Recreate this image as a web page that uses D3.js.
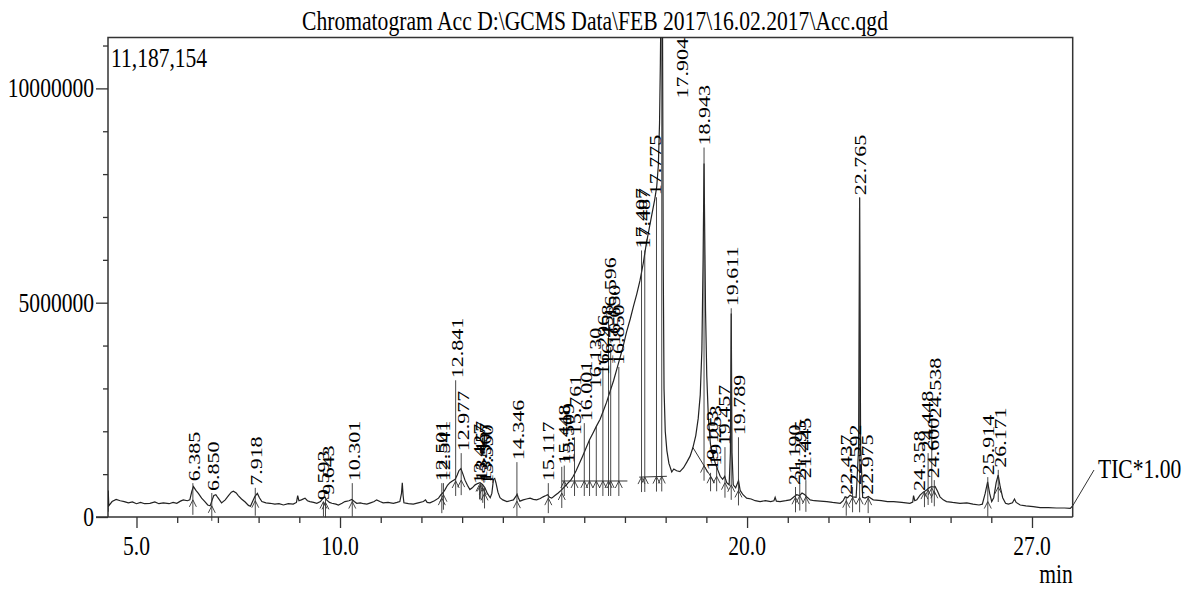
<!DOCTYPE html>
<html>
<head>
<meta charset="utf-8">
<script src="https://cdn.jsdelivr.net/npm/d3@7"></script>
<style>
  body { margin: 0; background: #fff; }
  text { font-family: "Liberation Serif", "Times New Roman", serif; fill: #000; }
</style>
</head>
<body>
<svg id="chart" width="1182" height="590"></svg>
<script>
// ---- data ----
var titleText = 'Chromatogram Acc D:\\GCMS Data\\FEB 2017\\16.02.2017\\Acc.qgd';
var maxCounts = 11187154;

// TIC trace: retention time (min) and intensity (millions of counts)
var traceT = [4.30,4.305,4.32,4.40,4.50,4.60,4.70,4.80,4.90,5.00,5.10,5.20,5.33,5.45,5.55,5.66,5.80,5.90,5.99,6.08,
  6.15,6.25,6.31,6.36,6.40,6.46,6.52,6.60,6.68,6.75,6.81,6.86,6.90,6.95,7.00,7.09,7.18,7.26,7.33,7.38,
  7.45,7.50,7.58,7.67,7.75,7.80,7.86,7.91,7.97,8.02,8.08,8.18,8.28,8.40,8.50,8.61,8.73,8.85,8.93,8.96,
  8.99,9.05,9.14,9.20,9.26,9.35,9.43,9.52,9.59,9.63,9.67,9.74,9.80,9.90,9.96,10.05,10.12,10.22,10.29,10.35,
  10.41,10.50,10.58,10.66,10.75,10.84,10.90,10.98,11.06,11.18,11.31,11.40,11.47,11.51,11.53,11.55,11.57,11.68,11.80,11.92,
  12.05,12.10,12.14,12.21,12.32,12.42,12.48,12.54,12.58,12.64,12.70,12.76,12.83,12.88,12.92,12.97,13.02,13.07,13.13,13.19,
  13.25,13.32,13.38,13.44,13.50,13.56,13.62,13.69,13.73,13.77,13.80,13.83,13.88,13.93,14.00,14.10,14.18,14.26,14.32,14.35,
  14.38,14.42,14.50,14.58,14.67,14.75,14.83,14.92,14.99,15.06,15.10,15.15,15.20,15.28,15.36,15.43,15.49,15.55,15.61,15.67,
  15.73,15.80,15.88,15.96,16.05,16.13,16.21,16.30,16.39,16.47,16.55,16.63,16.72,16.80,16.88,16.96,17.04,17.13,17.21,17.29,
  17.37,17.45,17.52,17.60,17.67,17.73,17.78,17.82,17.85,17.87,17.89,17.904,17.92,17.94,17.96,17.99,18.03,18.08,18.15,18.20,
  18.27,18.35,18.44,18.52,18.60,18.67,18.74,18.80,18.85,18.89,18.92,18.943,18.96,18.98,19.01,19.05,19.10,19.16,19.22,19.28,
  19.34,19.40,19.45,19.50,19.56,19.59,19.611,19.63,19.66,19.72,19.79,19.83,19.90,19.99,20.10,20.20,20.32,20.45,20.58,20.66,
  20.69,20.72,20.81,20.95,21.06,21.14,21.22,21.29,21.35,21.42,21.47,21.55,21.65,21.80,21.96,22.10,22.29,22.36,22.41,22.47,
  22.53,22.60,22.68,22.74,22.765,22.79,22.84,22.90,22.98,23.04,23.10,23.30,23.45,23.60,23.80,24.00,24.07,24.09,24.12,24.17,
  24.25,24.33,24.41,24.47,24.53,24.58,24.62,24.68,24.74,24.82,24.90,25.05,25.23,25.40,25.55,25.70,25.78,25.85,25.91,25.96,
  26.01,26.06,26.12,26.17,26.22,26.28,26.35,26.42,26.52,26.57,26.61,26.71,26.85,27.03,27.20,27.40,27.60,27.80,27.94,28.00];
var traceMillions = [0.12,0.62,0.26,0.36,0.41,0.38,0.36,0.33,0.35,0.31,0.34,0.31,0.32,0.35,0.31,0.33,0.31,0.34,0.32,0.37,
  0.40,0.38,0.40,0.60,0.71,0.62,0.55,0.44,0.36,0.28,0.26,0.40,0.50,0.52,0.45,0.33,0.40,0.50,0.58,0.60,
  0.56,0.50,0.42,0.35,0.27,0.25,0.38,0.48,0.55,0.45,0.36,0.33,0.32,0.30,0.31,0.28,0.31,0.30,0.34,0.50,
  0.38,0.40,0.44,0.38,0.36,0.34,0.32,0.36,0.45,0.46,0.40,0.34,0.32,0.30,0.28,0.32,0.36,0.38,0.41,0.36,
  0.32,0.33,0.31,0.30,0.33,0.36,0.40,0.36,0.33,0.34,0.32,0.34,0.36,0.55,0.80,0.50,0.33,0.31,0.30,0.33,
  0.36,0.40,0.34,0.33,0.38,0.44,0.52,0.58,0.64,0.74,0.80,0.84,0.88,0.98,1.08,1.13,1.00,0.86,0.74,0.64,
  0.68,0.75,0.78,0.80,0.76,0.68,0.55,0.45,0.55,0.88,0.90,0.80,0.58,0.45,0.40,0.36,0.38,0.40,0.48,0.53,
  0.45,0.37,0.40,0.42,0.44,0.41,0.40,0.43,0.47,0.50,0.52,0.46,0.44,0.50,0.56,0.62,0.68,0.74,0.80,0.86,
  0.95,1.08,1.25,1.42,1.62,1.80,1.95,2.12,2.28,2.48,2.68,2.92,3.18,3.45,3.72,4.00,4.32,4.62,4.92,5.20,
  5.52,5.92,6.35,6.75,7.10,7.40,7.70,8.20,9.20,10.6,12.5,20.0,12.5,6.0,3.0,2.0,1.55,1.25,1.05,1.12,
  1.08,1.06,1.15,1.28,1.42,1.62,1.90,2.30,2.85,3.90,6.00,8.25,6.60,4.80,3.30,2.30,1.70,1.45,1.25,1.10,
  0.95,0.88,0.95,0.80,0.75,1.50,4.75,1.50,0.75,0.68,0.85,0.62,0.52,0.44,0.42,0.38,0.36,0.38,0.36,0.38,
  0.46,0.37,0.36,0.38,0.40,0.46,0.52,0.50,0.56,0.52,0.47,0.40,0.38,0.37,0.36,0.34,0.32,0.38,0.47,0.45,
  0.51,0.47,0.46,1.60,7.45,1.60,0.46,0.44,0.48,0.44,0.40,0.38,0.36,0.36,0.34,0.32,0.35,0.50,0.38,0.40,
  0.51,0.58,0.63,0.68,0.71,0.70,0.71,0.60,0.47,0.40,0.36,0.34,0.32,0.33,0.30,0.28,0.30,0.55,0.82,0.55,
  0.36,0.45,0.80,0.98,0.70,0.45,0.32,0.30,0.33,0.42,0.34,0.28,0.26,0.24,0.22,0.22,0.21,0.21,0.20,0.26];

// peak labels: text, where the label is centred (min) and where its foot sits (millions)
var peakText = ['6.385','6.850','7.918','9.593','9.643','10.301','12.501','12.541','12.841','12.977',
  '13.427','13.457','13.507','13.550','14.346','15.117','15.448','15.509','15.761','16.001',
  '16.130','16.296','16.458','16.596','16.650','16.850','17.407','17.487','17.775','17.904',
  '18.943','19.103','19.253','19.457','19.611','19.789','21.190','21.295','21.445','22.437',
  '22.592','22.765','22.975','24.358','24.448','24.538','24.600','25.914','26.171'];
var labelT = [6.40,6.88,7.93,9.58,9.70,10.33,12.48,12.56,12.86,13.02,
  13.40,13.47,13.55,13.62,14.37,15.11,15.50,15.60,15.77,16.05,
  16.26,16.45,16.55,16.63,16.72,16.83,17.40,17.47,17.73,18.40,
  18.94,19.14,19.22,19.42,19.63,19.81,21.16,21.30,21.42,22.44,
  22.66,22.77,22.95,24.23,24.42,24.61,24.56,25.92,26.22];
var labelBase = [0.79,0.56,0.68,0.35,0.47,0.79,0.79,0.79,3.19,1.49,
  0.72,0.79,0.75,0.70,1.28,0.79,1.17,1.20,1.86,2.19,
  2.96,3.26,3.50,4.60,3.96,3.50,6.22,6.22,7.46,9.72,
  8.62,1.03,1.15,1.63,4.87,1.86,0.70,0.80,0.86,0.47,
  0.70,7.46,0.47,0.56,1.49,2.26,0.86,0.93,1.10];

// integration baselines: start min, start level, end min, end level (millions)
var baseSegs = [[15.45,0.84,17.06,0.84],[17.35,0.93,18.03,0.95],[18.67,1.62,19.20,0.80]];

var yTickValues = [0, 5000000, 10000000];
var xTickLabels = [5, 10, 20, 27];

// ---- layout ----
var svg = d3.select('#chart');
var plotL = 108, plotR = 1072.7, plotT = 37.5, plotB = 517;
var tx = 0.77;  // the source image is squeezed sideways

var x = d3.scaleLinear().domain([4.3, 28.0]).range([plotL, plotR]);
var y = d3.scaleLinear().domain([0, maxCounts / 1e6]).range([plotB, plotT]);

svg.append('defs').append('clipPath').attr('id', 'plot')
  .append('rect').attr('x', plotL).attr('y', plotT).attr('width', plotR - plotL).attr('height', plotB - plotT + 30);

function hText(str, px, py, anchor, size, sx) {
  svg.append('text')
    .attr('transform', 'translate(' + px + ',' + py + ') scale(' + (sx || tx) + ',1)')
    .attr('text-anchor', anchor)
    .style('font-size', size + 'px')
    .text(str);
}

// title and corner text
hText(titleText, 595, 30, 'middle', 27, 0.8);
hText('11,187,154', 111, 67, 'start', 28);

// frame
svg.append('path')
  .attr('d', 'M' + plotL + ',' + plotB + 'V' + plotT + 'H' + plotR + 'V' + plotB)
  .attr('fill', 'none').attr('stroke', '#333').attr('stroke-width', 1.5);

// x axis
var xAxis = d3.axisBottom(x).tickValues(d3.range(5, 28)).tickSize(6).tickFormat('');
var gx = svg.append('g').attr('transform', 'translate(0,' + plotB + ')').call(xAxis);
gx.select('.domain').remove();
gx.selectAll('line').attr('stroke', '#333').attr('stroke-width', 1.3)
  .attr('y2', function (d) { return xTickLabels.indexOf(d) >= 0 ? 11 : 6; });
svg.append('line').attr('x1', 96).attr('x2', plotR).attr('y1', plotB).attr('y2', plotB)
  .attr('stroke', '#333').attr('stroke-width', 1.5);
xTickLabels.forEach(function (v) { hText(v.toFixed(1), x(v), 555, 'middle', 28); });
hText('min', plotR, 583, 'end', 28);

// y axis
var yAxis = d3.axisLeft(y).tickValues(d3.range(0, 12)).tickSize(5).tickFormat('');
var gy = svg.append('g').attr('transform', 'translate(' + plotL + ',0)').call(yAxis);
gy.select('.domain').remove();
gy.selectAll('line').attr('stroke', '#333').attr('stroke-width', 1.3)
  .attr('x2', function (d) { return d % 5 === 0 ? -12 : -5; });
yTickValues.forEach(function (v) { hText(String(v), 94, y(v / 1e6) + 9, 'end', 28); });

// trace
var pts = traceT.map(function (t, i) { return [t, traceMillions[i]]; });
var plot = svg.append('g').attr('clip-path', 'url(#plot)');
plot.append('path').datum(pts)
  .attr('d', d3.line().x(function (d) { return x(d[0]); }).y(function (d) { return y(d[1]); }))
  .attr('fill', 'none').attr('stroke', '#222').attr('stroke-width', 1.2);

// integration baselines
plot.selectAll('line.base').data(baseSegs).enter().append('line')
  .attr('x1', function (d) { return x(d[0]); }).attr('y1', function (d) { return y(d[1]); })
  .attr('x2', function (d) { return x(d[2]); }).attr('y2', function (d) { return y(d[3]); })
  .attr('stroke', '#333').attr('stroke-width', 1);

function traceAt(t) {
  var i = d3.bisectLeft(traceT, t);
  if (i <= 0) return traceMillions[0];
  if (i >= traceT.length) return traceMillions[traceT.length - 1];
  var f = (t - traceT[i - 1]) / (traceT[i] - traceT[i - 1]);
  return traceMillions[i - 1] + f * (traceMillions[i] - traceMillions[i - 1]);
}
function footAt(t) {
  for (var k = 0; k < baseSegs.length; k++) {
    var s = baseSegs[k];
    if (t >= s[0] && t <= s[2]) return s[1] + (t - s[0]) / (s[2] - s[0]) * (s[3] - s[1]);
  }
  var m = Infinity;
  traceT.forEach(function (tt, i) { if (Math.abs(tt - t) < 0.1) m = Math.min(m, traceMillions[i]); });
  return m === Infinity ? traceAt(t) : m;
}

// peak markers
peakText.forEach(function (s, i) {
  var rt = +s;
  var px = x(rt);
  var fy = y(footAt(rt));
  var near = Math.abs(labelT[i] - rt) < 0.12;
  var topY = near ? y(labelBase[i]) : y(traceAt(rt));
  plot.append('line').attr('x1', px).attr('x2', px).attr('y1', topY).attr('y2', fy + 15)
    .attr('stroke', '#333').attr('stroke-width', 0.9);
  plot.append('path')
    .attr('d', 'M' + (px - 3.5) + ',' + (fy + 7) + 'L' + px + ',' + fy + 'L' + (px + 3.5) + ',' + (fy + 7))
    .attr('fill', 'none').attr('stroke', '#333').attr('stroke-width', 0.9);
});

// peak labels, rotated
svg.selectAll('text.peak').data(peakText).enter().append('text')
  .attr('class', 'peak')
  .attr('transform', function (d, i) {
    return 'translate(' + x(labelT[i]) + ',' + (y(labelBase[i]) - 2) + ') scale(0.79,1) rotate(-90)';
  })
  .attr('dy', '0.35em')
  .style('font-size', '22px')
  .text(function (d) { return d; });

// TIC label with leader
svg.append('line').attr('x1', plotR).attr('y1', y(traceMillions[traceMillions.length - 1]))
  .attr('x2', 1094).attr('y2', 470).attr('stroke', '#333').attr('stroke-width', 1);
hText('TIC*1.00', 1098, 478, 'start', 28);
</script>
</body>
</html>
